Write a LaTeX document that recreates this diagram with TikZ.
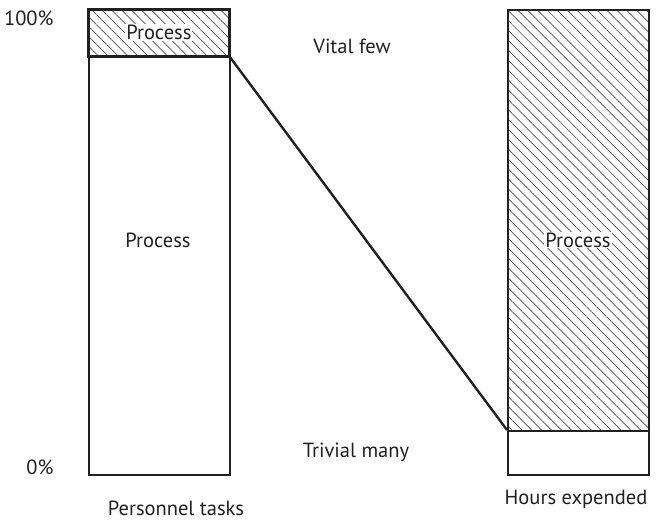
\documentclass[tikz,border=0pt]{standalone}
\usepackage{fontspec}
\setmainfont{PT Sans}
\usepackage{xcolor}
\usepackage{tikz}
\usetikzlibrary{patterns.meta}
\definecolor{barline}{RGB}{35,31,32}

\begin{document}
\begin{tikzpicture}[x=1pt,y=-1pt,font=\fontsize{20.5}{24}\selectfont]
    \tikzstyle{segment} = [draw=barline, line width=2.4pt, minimum width=141pt, inner sep=0pt, anchor=north west]
    \tikzstyle{hatched} = [pattern={Lines[angle=-45, distance=7pt, line width=0.7pt]}, pattern color=barline!80]
    \tikzstyle{tag} = [fill=white, inner sep=1pt, text=barline]
    \useasboundingbox (0,0) rectangle (656,522);

    % Personnel tasks bar
    \node [segment, hatched, minimum height=47pt] (ptop) at (88,9) {};
    \node [segment, minimum height=418pt] (pbot) at (88,56) {};
    % Hours expended bar
    \node [segment, hatched, minimum height=421pt] (htop) at (507,9) {};
    \node [segment, minimum height=44pt] (hbot) at (507,430) {};

    \draw [line width=2.4pt, draw=barline] (ptop.south east) -- (hbot.north west);

    % Labels
    \node [tag] at (ptop.center) {Process};
    \node [tag] at (158,240) {Process};
    \node [tag] at (578,240) {Process};
    \node [text=barline, anchor=east] at (57,18) {100\%};
    \node [text=barline, anchor=east] at (57,467) {0\%};
    \node [text=barline] at (352,46) {Vital few};
    \node [text=barline] at (356,452) {Trivial many};
    \node [text=barline] at (176,508) {Personnel tasks};
    \node [text=barline] at (576,499) {Hours expended};
\end{tikzpicture}
\end{document}
